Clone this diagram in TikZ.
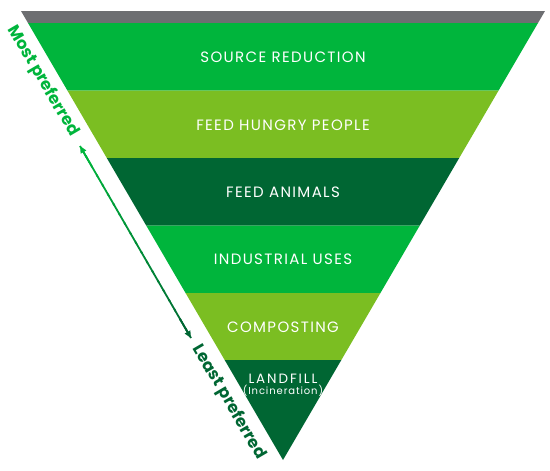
\documentclass[tikz,border=0pt]{standalone}
\usepackage{fontspec}
\setmainfont{Poppins}
\newfontfamily\bandfont[LetterSpace=9]{Poppins}
\newfontfamily\smallfont[LetterSpace=14]{Poppins}
\newfontfamily\sidefont{Poppins}
\usetikzlibrary{arrows.meta,calc}
\definecolor{gbright}{HTML}{00B53C}
\definecolor{glight}{HTML}{7BBE22}
\definecolor{gdark}{HTML}{006633}
\definecolor{gbar}{HTML}{6D6E71}
\begin{document}
\begin{tikzpicture}[x=1pt,y=-1pt,
  bandlabel/.style={text=white,font=\bandfont\fontsize{15}{17}\selectfont,inner sep=0pt,anchor=center},
  sidelabel/.style={font=\sidefont\bfseries\fontsize{16.5}{18}\selectfont,inner sep=0pt,rotate=-59.7,anchor=center}]
\useasboundingbox (0,0) rectangle (550,471);
% bands
\fill[gbar] (21,11) -- (545,11) -- (538,23) -- (28,23) -- cycle;
\fill[gbright] (28,23) -- (538,23) -- (498.6,90.5) -- (67.4,90.5) -- cycle;
\fill[glight] (67.4,90.5) -- (498.6,90.5) -- (459.2,158) -- (106.8,158) -- cycle;
\fill[gdark] (106.8,158) -- (459.2,158) -- (419.8,225.5) -- (146.2,225.5) -- cycle;
\fill[gbright] (146.2,225.5) -- (419.8,225.5) -- (380.45,293) -- (185.55,293) -- cycle;
\fill[glight] (185.55,293) -- (380.45,293) -- (341.35,360) -- (224.65,360) -- cycle;
\fill[gdark] (224.65,360) -- (341.35,360) -- (283,460) -- cycle;
% labels
\node[bandlabel] (l1) at (283,57.5) {SOURCE REDUCTION};
\node[bandlabel] (l2) at (283,125.3) {FEED HUNGRY PEOPLE};
\node[bandlabel] (l3) at (283,192.5) {FEED ANIMALS};
\node[bandlabel] (l4) at (283,259.5) {INDUSTRIAL USES};
\node[bandlabel] (l5) at (283,327) {COMPOSTING};
\node[bandlabel,font=\smallfont\fontsize{13.5}{15}\selectfont] (l6) at (283,378.5) {LANDFILL};
\node[bandlabel,font=\bandfont\fontsize{10}{11}\selectfont] (l7) at (283,390.5) {(Incineration)};
% side labels
\node[sidelabel,text=gbright] (most) at (43,81) {Most preferred};
\node[sidelabel,text=gdark] (least) at (229,402) {Least preferred};
% gradient double arrow
\coordinate (atop) at (80,146);
\coordinate (abot) at (191,338);
\foreach \i in {0,...,19}{
  \pgfmathsetmacro{\mixv}{100-5*\i}
  \pgfmathsetmacro{\ta}{\i/20}
  \pgfmathsetmacro{\tb}{min((\i+1.2)/20,1)}
  \draw[line width=1.8pt,color=gbright!\mixv!gdark] ($(atop)!\ta!(abot)$) -- ($(atop)!\tb!(abot)$);
}
\draw[gbright,line width=1.8pt,-{Triangle[length=7pt,width=6pt]}] ($(atop)!0.1!(abot)$) -- (atop);
\draw[gdark,line width=1.8pt,-{Triangle[length=7pt,width=6pt]}] ($(atop)!0.9!(abot)$) -- (abot);
\end{tikzpicture}
\end{document}
